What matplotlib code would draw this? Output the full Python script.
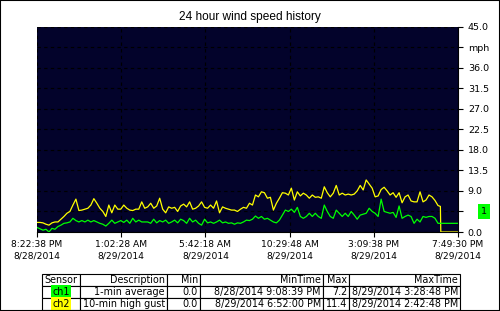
import matplotlib
matplotlib.use("Agg")
import matplotlib.pyplot as plt
import matplotlib.transforms as mtransforms
from matplotlib.patches import Rectangle
import pandas as pd

# --- data (mph) ---
start = pd.Timestamp("2014-08-28 20:22:38")
end = pd.Timestamp("2014-08-29 19:49:30")

# minutes after start: 10-min readings, then the end of the record
offsets_min = list(range(0, 1341, 10)) + [1348, 1349.4, 1406.9]

gust_10min = [
    2.1, 2.1, 2.0, 1.7, 1.5, 2.0, 2.2, 2.2, 2.8, 3.4, 4.1, 4.5, 5.9, 7.2, 4.7, 4.8,
    5.0, 5.2, 5.9, 7.3, 6.3, 5.2, 4.5, 3.4, 5.9, 4.2, 5.9, 5.0, 5.0, 5.9, 5.2, 4.8,
    4.7, 5.0, 5.0, 6.6, 5.2,
    5.5, 6.3, 5.2, 5.7, 7.4, 5.0, 4.2, 5.5, 5.2, 5.4, 4.5, 5.7, 6.1, 5.5, 6.6, 5.0,
    5.2, 5.7, 6.6, 5.4, 5.2, 5.9, 5.2, 6.8, 4.2, 5.5, 5.2, 5.0, 4.8, 4.8, 4.5, 5.0,
    5.4, 5.2, 6.3,
    5.9, 8.1, 7.7, 8.8, 8.6, 7.4, 7.6, 4.8, 6.3, 7.4, 8.6, 8.5, 8.1, 9.6, 7.0, 8.8,
    7.9, 8.5, 8.1, 7.4, 8.1, 7.6, 7.7, 7.4, 9.9, 8.6, 7.7, 8.5, 10.2, 8.1, 8.5, 8.1,
    8.3, 8.1, 8.3,
    9.0, 10.2, 9.2, 11.4, 10.5, 9.6, 7.7, 7.9, 9.3, 9.8, 9.0, 8.1, 8.6, 7.6, 8.6, 6.4,
    7.7, 8.1, 6.8, 6.6, 6.6, 8.8, 6.6, 7.0, 8.1, 7.7, 6.9, 5.8,
    5.6, 0.0, 0.0,
]

avg_1min = [
    1.0, 0.7, 0.4, 0.6, 0.0, 0.8, 0.6, 1.2, 1.5, 1.9, 2.0, 2.2, 3.0, 2.5, 2.2, 2.5,
    2.2, 2.6, 2.2, 2.5, 2.2, 1.9, 1.7, 1.3, 1.9, 2.6, 1.9, 2.2, 2.5, 2.1, 2.6, 1.9,
    3.0, 2.2, 2.6, 2.2, 2.2,
    2.2, 1.9, 2.8, 2.0, 2.5, 2.2, 2.6, 1.9, 2.2, 2.6, 2.0, 2.8, 2.5, 1.9, 3.0, 2.2,
    2.6, 1.9, 1.5, 2.8, 2.0, 2.2, 1.9, 2.2, 2.6, 2.0, 2.2, 1.9, 2.0, 1.7, 2.0, 1.9,
    2.2, 2.6, 2.5,
    2.8, 3.5, 3.0, 3.4, 2.8, 3.0, 2.6, 2.2, 2.0, 2.6, 3.7, 4.8, 4.5, 5.0, 4.3, 5.4,
    3.4, 3.0, 3.4, 4.1, 3.4, 4.1, 3.4, 3.0, 5.9, 4.5, 3.4, 3.0, 4.8, 4.1, 3.4, 4.1,
    3.4, 4.5, 3.7,
    2.8, 3.7, 3.9, 4.1, 5.2, 4.5, 4.1, 3.4, 7.2, 4.5, 4.3, 4.1, 4.3, 3.2, 5.7, 3.0,
    3.4, 3.7, 3.4, 1.9, 2.8, 2.2, 3.4, 3.2, 3.4, 3.4, 3.0, 1.9,
    1.9, 1.9, 1.9,
]

x_tick_labels = [
    "8:22:38 PM\n8/28/2014", "1:02:28 AM\n8/29/2014", "5:42:18 AM\n8/29/2014",
    "10:29:48 AM\n8/29/2014", "3:09:38 PM\n8/29/2014", "7:49:30 PM\n8/29/2014",
]
y_ticks = [0.0, 4.5, 9.0, 13.5, 18.0, 22.5, 27.0, 31.5, 36.0, 40.5, 45.0]
y_tick_labels = ["0.0", "", "9.0", "13.5", "18.0", "22.5", "27.0", "31.5", "36.0", "mph", "45.0"]

table_header = ["Sensor", "Description", "Min", "MinTime", "Max", "MaxTime"]
table_rows = [
    ["ch1", "1-min average", "0.0", "8/28/2014 9:08:39 PM", "7.2", "8/29/2014 3:28:48 PM"],
    ["ch2", "10-min high gust", "0.0", "8/29/2014 6:52:00 PM", "11.4", "8/29/2014 2:42:48 PM"],
]
sensor_colors = ["#00ff00", "#ffff00"]

times = [start + pd.Timedelta(minutes=m) for m in offsets_min]
x_ticks = pd.date_range(start, end, periods=len(x_tick_labels))

W, H = 500, 311
fig = plt.figure(figsize=(W / 100, H / 100), dpi=100)
fig.patch.set_facecolor("white")

ax = fig.add_axes([37 / W, 1 - 232 / H, 421 / W, 205.5 / H])
ax.set_facecolor("#03032b")
ax.plot(times, gust_10min, color="#ffff00", linewidth=0.9)
ax.plot(times, avg_1min, color="#00ff00", linewidth=0.9)
ax.set_xlim(start, end)
ax.set_ylim(0, 45)

ax.set_xticks(x_ticks)
ax.set_xticklabels(x_tick_labels, fontsize=6.6, linespacing=1.35)
ax.yaxis.tick_right()
ax.set_yticks(y_ticks)
ax.set_yticklabels(y_tick_labels, fontsize=6.8, ha="left")
ax.tick_params(axis="y", direction="out", length=3.6, width=0.8, pad=3.5)
ax.tick_params(axis="x", direction="out", length=3.6, width=0.8, pad=2.5)
ax.grid(True, color="black", linestyle=(0, (3, 3)), linewidth=0.8)
for side in ["left", "top"]:
    ax.spines[side].set_visible(False)
for side in ["right", "bottom"]:
    ax.spines[side].set_color("black")
    ax.spines[side].set_linewidth(0.8)

# green marker box at 4.5
trans = mtransforms.blended_transform_factory(ax.transAxes, ax.transData)
ax.text((484 - 37) / 421, 4.5, "1", transform=trans, ha="center", va="center",
        fontsize=6.8, bbox=dict(facecolor="#00ff00", edgecolor="none", pad=2.2))

fig.text(0.5, 1 - 17 / H, "24 hour wind speed history", ha="center", va="center",
         fontsize=8.6, family="Liberation Sans")

# summary table
col_px = [38, 87, 33, 123, 26, 111]
tax = fig.add_axes([42 / W, 1 - 310 / H, 418 / W, 36 / H])
tax.axis("off")
tbl = tax.table(cellText=table_rows, colLabels=table_header,
                colWidths=[c / sum(col_px) for c in col_px],
                cellLoc="right", colLoc="right", bbox=[0, 0, 1, 1])
tbl.auto_set_font_size(False)
tbl.set_fontsize(6.9)
for (r, c), cell in tbl.get_celld().items():
    cell.set_edgecolor("black")
    cell.set_linewidth(0.8)
    cell.PAD = 2.0 / col_px[c]
    if c == 0:
        cell.get_text().set_ha("center")
        if r > 0:
            cell.get_text().set_bbox(dict(facecolor=sensor_colors[r - 1],
                                          edgecolor="none", pad=1.2))

fig.add_artist(Rectangle((0, 0), 1, 1, transform=fig.transFigure, fill=False,
                         edgecolor="black", linewidth=1.5))

fig.savefig("out.png", dpi=100)
